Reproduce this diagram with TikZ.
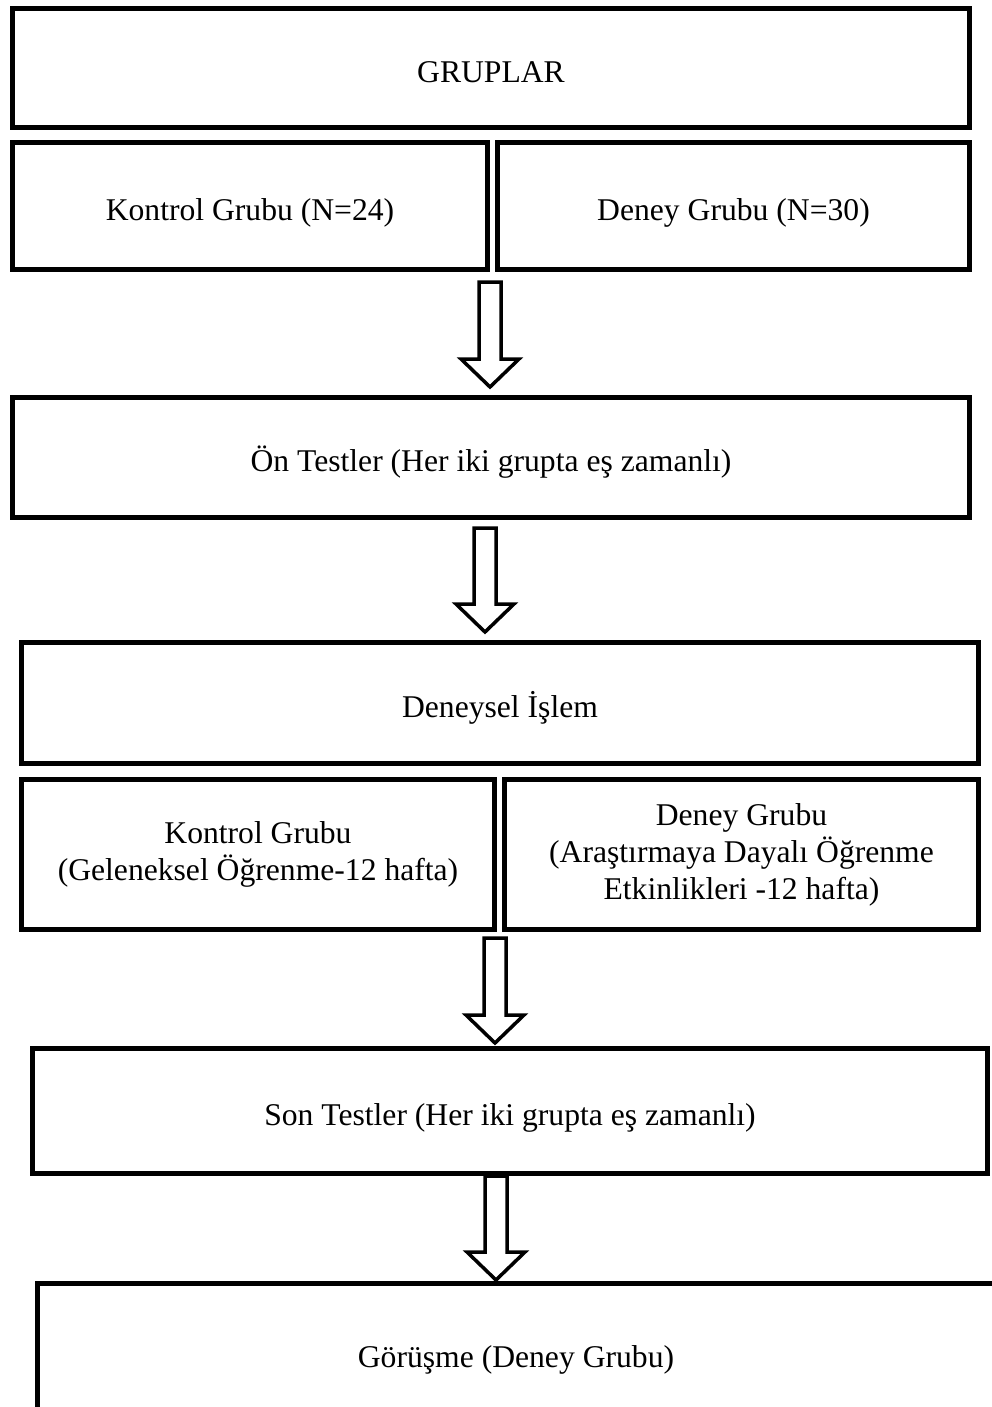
\documentclass[tikz,border=0pt]{standalone}
\usepackage{fontspec}
\setmainfont{Liberation Serif}
\usetikzlibrary{calc}

\newcommand{\hollowarrow}[5]{%
  \draw[arrowline] let \p1=(#2.south), \p2=(#3.north) in
    (#1-0.22cm,\y1-#4) -- (#1+0.22cm,\y1-#4) -- (#1+0.22cm,\y2+#5+0.56cm)
    -- (#1+0.58cm,\y2+#5+0.56cm) -- (#1,\y2+#5) -- (#1-0.58cm,\y2+#5+0.56cm)
    -- (#1-0.22cm,\y2+#5+0.56cm) -- cycle;}

\begin{document}
\begin{tikzpicture}[
    box/.style={draw, line width=0.1cm, minimum width=19.14cm, inner sep=0pt, font=\fontsize{18}{21}\selectfont},
    onebox/.style={box, text height=20pt, text depth=4pt},
    halfbox/.style={box, align=center, minimum width=9.48cm},
    arrowline/.style={line width=0.07cm, fill=white}]
    \clip (0,0) rectangle (19.84,-28.14);
    \useasboundingbox (0,0) rectangle (19.84,-28.14);

    \node[onebox, minimum height=2.38cm] (gruplar) at (9.82,-1.36) {GRUPLAR};
    \node[onebox, minimum width=9.5cm, minimum height=2.54cm] (kontrol) at (5.0,-4.12) {Kontrol Grubu (N=24)};
    \node[onebox, minimum width=9.44cm, minimum height=2.54cm] (deney) at (14.67,-4.12) {Deney Grubu (N=30)};
    \node[onebox, minimum height=2.4cm] (ontest) at (9.82,-9.15) {Ön Testler (Her iki grupta eş zamanlı)};
    \node[onebox, minimum height=2.42cm] (islem) at (10.0,-14.06) {Deneysel İşlem};
    \node[halfbox, minimum width=9.46cm, minimum height=3.0cm] (kontrolis) at (5.16,-17.09) {Kontrol Grubu\\(Geleneksel Öğrenme-12 hafta)};
    \node[halfbox, minimum height=3.0cm] (deneyis) at (14.83,-17.09) {Deney Grubu\\(Araştırmaya Dayalı Öğrenme\\Etkinlikleri -12 hafta)};
    \node[onebox, minimum width=19.1cm, minimum height=2.5cm] (sontest) at (10.2,-22.22) {Son Testler (Her iki grupta eş zamanlı)};
    \node[onebox, minimum height=2.78cm] (gorusme) at (10.32,-27.06) {Görüşme (Deney Grubu)};

    \hollowarrow{9.8cm}{kontrol}{ontest}{0.2cm}{0.16cm}
    \hollowarrow{9.7cm}{ontest}{islem}{0.16cm}{0.16cm}
    \hollowarrow{9.9cm}{kontrolis}{sontest}{0.12cm}{0.06cm}
    \hollowarrow{9.92cm}{sontest}{gorusme}{0cm}{0.02cm}
\end{tikzpicture}
\end{document}
